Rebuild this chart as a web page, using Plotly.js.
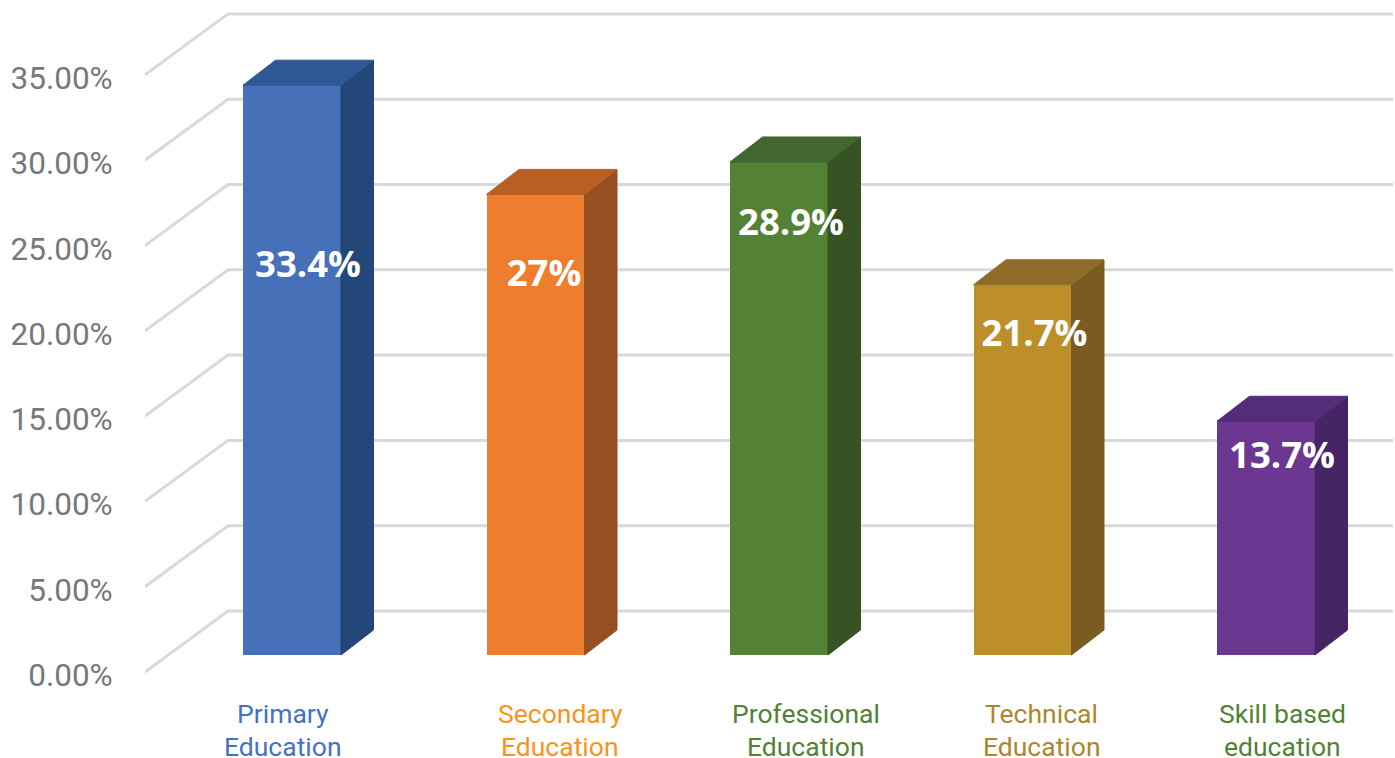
<!DOCTYPE html>
<html>
<head>
<meta charset="utf-8">
<script src="https://cdn.plot.ly/plotly-3.0.1.min.js"></script>
<style>html,body{margin:0;padding:0;background:#fff;overflow:hidden}#chart{width:1395px;height:758px}</style>
</head>
<body>
<div id="chart"></div>
<script>
// ---- data ----
const categoryLine1 = ["Primary","Secondary","Professional","Technical","Skill based"];
const categoryLine2 = ["Education","Education","Education","Education","education"];
const values = [33.4, 27, 28.9, 21.7, 13.7];
const valueLabels = ["33.4%","27%","28.9%","21.7%","13.7%"];
const yTicks = [0,5,10,15,20,25,30,35];
// ---- styles ----
const frontColors = ["#4670b7","#ee7d2e","#548235","#bd8f2b","#6c3791"];
const sideColors  = ["#234779","#964f20","#375323","#7a5c22","#462567"];
const topColors   = ["#2f5796","#b85f25","#436530","#8f6d28","#552c78"];
const labelColors = ["#4472c4","#f7941d","#548235","#ab862f","#548235"];
const labelShiftPx = [-9, 24.5, 27, 19, 16];
const valueShiftPx = [16, 8.5, 12, 12, 16];
const valueLabelY  = [23.67, 23.17, 26.17, 19.67, 12.47];

// ---- scale: one x unit = 243.5 px, one y unit (1%) = 17.06 px ----
const W = 1395, H = 758, LEFT = 145;
const xu = 243.5, yu = 17.06, x0px = 292, y0px = 672;
const xRange = [(LEFT - x0px)/xu, (W - x0px)/xu];
const yRange = [(y0px - H)/yu, y0px/yu];
const px2x = p => p/xu, px2y = p => p/yu;

const barW = px2x(98), barBase = px2y(17);
const depthX = px2x(32.5), depthY = px2y(25);
const wallX = px2x(83), wallY = px2y(61);
const xAxisLeft = xRange[0], xGridRight = xRange[1] - px2x(2);

// gridlines sit below all traces: floor-to-wall diagonal then along the back wall
const gridShapes = yTicks.map(v => ({
  type:'path', layer:'below', xref:'x', yref:'y',
  path:`M ${xAxisLeft} ${v} L ${xAxisLeft + wallX} ${v + wallY} L ${xGridRight} ${v + wallY}`,
  line:{color:'#d9d9d9', width:3}
}));

const traces = [];

// front faces
traces.push({
  type:'bar', x:values.map((_,i)=>i), y:values, base:values.map(()=>barBase), width:barW,
  marker:{color:frontColors, line:{width:0}}, hoverinfo:'skip', showlegend:false
});

// side and top faces of every bar derive from its value
values.forEach((v,i) => {
  const l = i - barW/2, r = i + barW/2, b = barBase, t = barBase + v;
  traces.push({
    type:'scatter', mode:'lines', fill:'toself', fillcolor:sideColors[i], hoverinfo:'skip', showlegend:false,
    line:{color:sideColors[i], width:1},
    x:[r, r+depthX, r+depthX, r, r], y:[b, b+depthY, t+depthY, t, b]
  });
  traces.push({
    type:'scatter', mode:'lines', fill:'toself', fillcolor:topColors[i], hoverinfo:'skip', showlegend:false,
    line:{color:topColors[i], width:1},
    x:[l, r, r+depthX, l+depthX, l], y:[t, t, t+depthY, t+depthY, t]
  });
});

// value labels
traces.push({
  type:'scatter', mode:'text', hoverinfo:'skip', showlegend:false,
  x:values.map((_,i)=>i + px2x(valueShiftPx[i])), y:valueLabelY, text:valueLabels,
  textposition:'middle center',
  textfont:{family:'"Open Sans", "Noto Sans", sans-serif', size:36.5, color:'#ffffff', weight:700}
});

const catAnn = (lines, y) => lines.map((c,i)=>({
  xref:'x', yref:'y', x:i, y:y, xshift:labelShiftPx[i], text:c, showarrow:false,
  align:'center', xanchor:'center', yanchor:'middle',
  font:{family:'Roboto, sans-serif', size:26.5, color:labelColors[i]}
}));

const layout = {
  width:W, height:H, autosize:false,
  margin:{l:LEFT, r:0, t:0, b:0, pad:0},
  paper_bgcolor:'#ffffff', plot_bgcolor:'#ffffff',
  showlegend:false, bargap:0, shapes:gridShapes,
  xaxis:{type:'linear', range:xRange, showgrid:false, zeroline:false, showline:false, showticklabels:false, ticks:'', fixedrange:true},
  yaxis:{type:'linear', range:yRange, tickmode:'array', tickvals:yTicks,
    ticktext:yTicks.map(v=>v.toFixed(2)+'%'), showgrid:false, zeroline:false, showline:false,
    ticks:'outside', ticklen:25, tickcolor:'rgba(0,0,0,0)', tickwidth:1, ticklabelshift:3,
    tickfont:{family:'Roboto, sans-serif', size:31.5, color:'#77787b'}, fixedrange:true},
  annotations:catAnn(categoryLine1, -2.46).concat(catAnn(categoryLine2, -4.34))
};
Plotly.newPlot('chart', traces, layout, {displayModeBar:false, staticPlot:true});
</script>
</body>
</html>
